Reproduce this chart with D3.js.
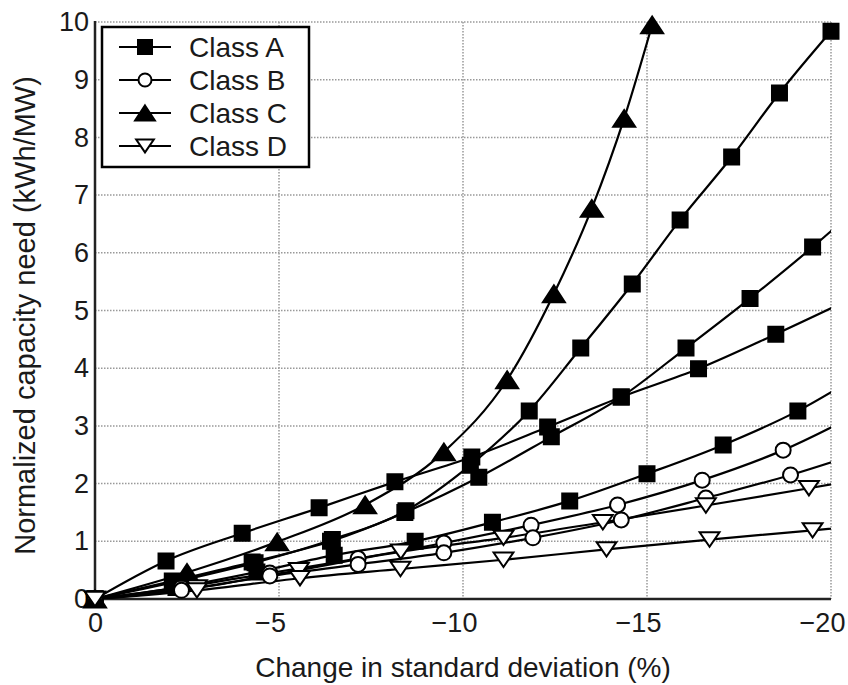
<!DOCTYPE html>
<html>
<head>
<meta charset="utf-8">
<script src="https://cdn.jsdelivr.net/npm/d3@7"></script>
<style>
  body { margin: 0; background: #fff; }
  svg text { font-family: "Liberation Sans", Arial, sans-serif; fill: #1a1a1a; }
</style>
</head>
<body>
<div id="chart"></div>
<script>
// tick labels
var xTicks = [0, -5, -10, -15, -20];
var yTicks = [0, 1, 2, 3, 4, 5, 6, 7, 8, 9, 10];
var classNames = ["Class A", "Class B", "Class C", "Class D"];

// Class A (four curves)
var classA1X = [0, -2.2, -4.35, -6.45, -8.45, -10.2, -11.8, -13.2, -14.6, -15.9, -17.3, -18.6, -20];
var classA1Y = [0, 0.3, 0.63, 1.03, 1.53, 2.32, 3.26, 4.35, 5.46, 6.57, 7.66, 8.77, 9.84];
var classA2X = [0, -2.1, -4.27, -6.4, -8.42, -10.43, -12.4, -14.3, -16.06, -17.8, -19.5, -20.4];
var classA2Y = [0, 0.31, 0.64, 1.0, 1.5, 2.11, 2.81, 3.5, 4.35, 5.21, 6.1, 6.6];
var classA3X = [0, -1.93, -4.0, -6.09, -8.15, -10.24, -12.3, -14.3, -16.4, -18.5, -20.6];
var classA3Y = [0, 0.66, 1.14, 1.58, 2.03, 2.46, 2.98, 3.5, 3.99, 4.59, 5.22];
var classA4X = [0, -2.2, -4.4, -6.5, -8.7, -10.8, -12.9, -15.0, -17.07, -19.1, -21.2];
var classA4Y = [0, 0.2, 0.47, 0.76, 1.0, 1.33, 1.7, 2.17, 2.67, 3.26, 4.05];
// Class B
var classB1X = [0, -2.35, -4.75, -7.15, -9.48, -11.85, -14.2, -16.5, -18.7, -21.0];
var classB1Y = [0, 0.2, 0.45, 0.7, 0.97, 1.28, 1.63, 2.06, 2.58, 3.3];
var classB2X = [0, -2.35, -4.75, -7.15, -9.48, -11.9, -14.3, -16.6, -18.9, -21.2];
var classB2Y = [0, 0.15, 0.4, 0.6, 0.8, 1.06, 1.37, 1.75, 2.15, 2.62];
// Class C
var classCX = [0, -2.5, -4.95, -7.34, -9.48, -11.2, -12.47, -13.5, -14.38, -15.14];
var classCY = [0, 0.46, 0.99, 1.63, 2.55, 3.8, 5.29, 6.77, 8.33, 9.95];
// Class D
var classD1X = [0, -2.77, -5.54, -8.31, -11.1, -13.8, -16.6, -19.4, -22.2];
var classD1Y = [0, 0.2, 0.5, 0.82, 1.06, 1.33, 1.62, 1.92, 2.23];
var classD2X = [0, -2.77, -5.57, -8.3, -11.1, -13.9, -16.7, -19.5, -22.3];
var classD2Y = [0, 0.15, 0.36, 0.52, 0.68, 0.86, 1.03, 1.19, 1.36];

var width = 848, height = 685;
var plotLeft = 95, plotRight = 831, plotTop = 22, plotBottom = 599;

var svg = d3.select("#chart").append("svg")
    .attr("width", width)
    .attr("height", height);

var x = d3.scaleLinear().domain([0, -20]).range([plotLeft, plotRight]);
var y = d3.scaleLinear().domain([0, 10]).range([plotBottom, plotTop]);

// grid
svg.append("g")
    .selectAll("line")
    .data(yTicks.filter(function (d) { return d > 0; }))
    .enter().append("line")
    .attr("x1", plotLeft).attr("x2", plotRight)
    .attr("y1", function (d) { return y(d); })
    .attr("y2", function (d) { return y(d); })
    .attr("stroke", "#999").attr("stroke-width", 1.5)
    .attr("stroke-dasharray", "1.5,1.5");
svg.append("g")
    .selectAll("line")
    .data(xTicks.filter(function (d) { return d < 0; }))
    .enter().append("line")
    .attr("y1", plotTop).attr("y2", plotBottom)
    .attr("x1", function (d) { return x(d); })
    .attr("x2", function (d) { return x(d); })
    .attr("stroke", "#999").attr("stroke-width", 1.5)
    .attr("stroke-dasharray", "1.5,1.5");

// axes (labels only, lines drawn below)
var xAxis = svg.append("g")
    .attr("transform", "translate(0," + plotBottom + ")")
    .call(d3.axisBottom(x).tickValues(xTicks).tickSize(0).tickPadding(14)
        .tickFormat(function (d) { return d === 0 ? "0" : "\u2212" + Math.abs(d); }));
xAxis.select(".domain").remove();
xAxis.selectAll("text")
    .style("font-size", "27px")
    .attr("dx", function (d) { return d === 0 ? 0 : -9; });

var yAxis = svg.append("g")
    .attr("transform", "translate(" + plotLeft + ",0)")
    .call(d3.axisLeft(y).tickValues(yTicks).tickSize(0).tickPadding(6));
yAxis.select(".domain").remove();
yAxis.selectAll("text").style("font-size", "27px");

svg.append("line")
    .attr("x1", plotLeft).attr("x2", plotLeft).attr("y1", plotTop - 1).attr("y2", plotBottom + 1)
    .attr("stroke", "#222").attr("stroke-width", 2.5);
svg.append("line")
    .attr("x1", plotLeft).attr("x2", plotRight).attr("y1", plotBottom).attr("y2", plotBottom)
    .attr("stroke", "#222").attr("stroke-width", 2.5);

// axis titles
svg.append("text")
    .attr("x", (plotLeft + plotRight) / 2).attr("y", 677)
    .attr("text-anchor", "middle")
    .style("font-size", "28px")
    .text("Change in standard deviation (%)");
svg.append("text")
    .attr("transform", "translate(35," + ((plotTop + plotBottom) / 2 + 5) + ") rotate(-90)")
    .attr("text-anchor", "middle")
    .style("font-size", "29px")
    .text("Normalized capacity need (kWh/MW)");

// markers
function markerPath(type, s) {
    var p = d3.path();
    if (type == "square") {
        p.rect(-s / 2, -s / 2, s, s);
    } else if (type == "circle") {
        p.arc(0, 0, s / 2, 0, 2 * Math.PI);
    } else if (type == "up") {
        p.moveTo(0, -s * 0.42); p.lineTo(s * 0.55, s * 0.42); p.lineTo(-s * 0.55, s * 0.42); p.closePath();
    } else {
        p.moveTo(-s * 0.55, -s * 0.4); p.lineTo(s * 0.55, -s * 0.4); p.lineTo(0, s * 0.4); p.closePath();
    }
    return p.toString();
}
var markerStyle = {
    "square": { size: 15, fill: "#000" },
    "circle": { size: 15, fill: "#fff" },
    "up": { size: 20, fill: "#000" },
    "down": { size: 18, fill: "#fff" }
};

var series = [
    { xs: classA1X, ys: classA1Y, marker: "square" },
    { xs: classA2X, ys: classA2Y, marker: "square" },
    { xs: classA3X, ys: classA3Y, marker: "square" },
    { xs: classA4X, ys: classA4Y, marker: "square" },
    { xs: classB1X, ys: classB1Y, marker: "circle" },
    { xs: classB2X, ys: classB2Y, marker: "circle" },
    { xs: classCX, ys: classCY, marker: "up" },
    { xs: classD1X, ys: classD1Y, marker: "down" },
    { xs: classD2X, ys: classD2Y, marker: "down" }
];

svg.append("clipPath").attr("id", "plotclip")
    .append("rect").attr("x", plotLeft).attr("y", 0).attr("width", plotRight - plotLeft).attr("height", plotBottom);

var line = d3.line()
    .x(function (d) { return x(d[0]); })
    .y(function (d) { return y(d[1]); })
    .curve(d3.curveMonotoneX);

var plot = svg.append("g");
series.forEach(function (s) {
    var pts = d3.zip(s.xs, s.ys);
    plot.append("path")
        .attr("d", line(pts))
        .attr("clip-path", "url(#plotclip)")
        .attr("fill", "none").attr("stroke", "#000").attr("stroke-width", 2.2);
});
series.forEach(function (s) {
    var pts = d3.zip(s.xs, s.ys).filter(function (d) { return d[0] >= -20.05; });
    var st = markerStyle[s.marker];
    plot.selectAll(null).data(pts).enter().append("path")
        .attr("transform", function (d) { return "translate(" + x(d[0]) + "," + y(d[1]) + ")"; })
        .attr("d", markerPath(s.marker, st.size))
        .attr("fill", st.fill).attr("stroke", "#000").attr("stroke-width", 2);
});

// legend
var legendMarkers = ["square", "circle", "up", "down"];
var legendSizes = [14, 13, 18, 16];
var legend = svg.append("g");
legend.append("rect")
    .attr("x", 102).attr("y", 27).attr("width", 207).attr("height", 140)
    .attr("fill", "#fff").attr("stroke", "#000").attr("stroke-width", 2.5);
classNames.forEach(function (name, i) {
    var ly = 47 + i * 33;
    legend.append("line")
        .attr("x1", 119).attr("x2", 171).attr("y1", ly).attr("y2", ly)
        .attr("stroke", "#000").attr("stroke-width", 2.2);
    legend.append("path")
        .attr("transform", "translate(145," + ly + ")")
        .attr("d", markerPath(legendMarkers[i], legendSizes[i]))
        .attr("fill", markerStyle[legendMarkers[i]].fill)
        .attr("stroke", "#000").attr("stroke-width", 2);
    legend.append("text")
        .attr("x", 189).attr("y", ly).attr("dy", "0.36em")
        .style("font-size", "28px")
        .text(name);
});
</script>
</body>
</html>
